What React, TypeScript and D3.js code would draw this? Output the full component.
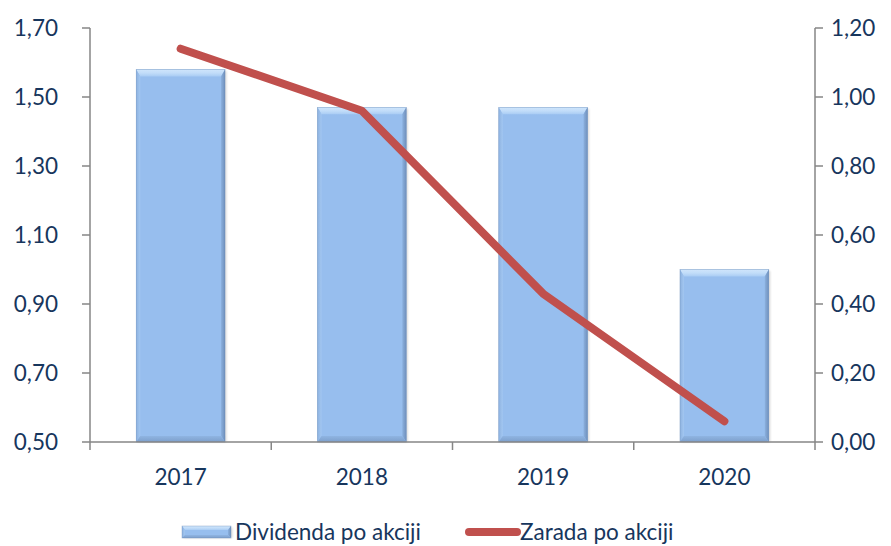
import React from "react";
import * as d3 from "d3";

const categories = ["2017", "2018", "2019", "2020"];
const dividenda = [1.58, 1.47, 1.47, 1.0];
const zarada = [1.14, 0.96, 0.43, 0.06];
const leftTicks = [0.5, 0.7, 0.9, 1.1, 1.3, 1.5, 1.7];
const rightTicks = [0, 0.2, 0.4, 0.6, 0.8, 1.0, 1.2];
const seriesNames = ["Dividenda po akciji", "Zarada po akciji"];

const W = 891, H = 546;
const M = { left: 90, right: 815, top: 28, bottom: 442 };
const FONT = "Lato, 'Open Sans', sans-serif";
const FS = 22.5;
const TEXT = "#17365D";
const AXIS = "#868686";
const fmt = (v: number) => v.toFixed(2).replace(".", ",");

function BevelBar({ x, y, w, h, small }: { x: number; y: number; w: number; h: number; small?: boolean }) {
  const bt = Math.min(small ? 4 : 7, h / 2);
  const bb = Math.min(small ? 3 : 6, h / 2);
  const bs = small ? 3 : 4;
  return (
    <g>
      <rect x={x + 1.5} y={y + 1.5} width={w} height={h - 1.5} fill="#000" opacity={0.15} filter="url(#blur)" />
      <rect x={x} y={y} width={w} height={h} fill="#97BEEE" />
      <polygon points={`${x},${y} ${x + w},${y} ${x + w - bs},${y + bt} ${x + bs},${y + bt}`} fill="url(#topB)" />
      <polygon points={`${x},${y} ${x + bs},${y + bt} ${x + bs},${y + h - bb} ${x},${y + h}`} fill="url(#leftB)" />
      <polygon points={`${x + w},${y} ${x + w},${y + h} ${x + w - bs},${y + h - bb} ${x + w - bs},${y + bt}`} fill="url(#rightB)" />
      <polygon points={`${x},${y + h} ${x + bs},${y + h - bb} ${x + w - bs},${y + h - bb} ${x + w},${y + h}`} fill="url(#botB)" />
      <rect x={x} y={y} width={w} height={h} fill="none" stroke="#6E8DB8" strokeWidth={0.6} opacity={0.6} />
    </g>
  );
}

export default function App() {
  const x = d3.scaleBand<string>().domain(categories).range([M.left, M.right]).paddingInner(0).paddingOuter(0);
  const yL = d3.scaleLinear().domain([0.5, 1.7]).range([M.bottom, M.top]);
  const yR = d3.scaleLinear().domain([0, 1.2]).range([M.bottom, M.top]);
  const bw = x.bandwidth() * 0.49;
  const line = d3
    .line<number>()
    .x((_, i) => (x(categories[i]) as number) + x.bandwidth() / 2)
    .y((d) => yR(d));
  const boundaries = [...categories.map((c) => x(c) as number), M.right];

  return (
    <svg width={W} height={H} style={{ position: "absolute", left: 0, top: 0, display: "block", background: "#fff" }}>
      <defs>
        <linearGradient id="topB" x1="0" x2="0" y1="0" y2="1">
          <stop offset="0" stopColor="#CFE5FB" />
          <stop offset="0.5" stopColor="#C2DDF9" />
          <stop offset="1" stopColor="#A9CCF4" />
        </linearGradient>
        <linearGradient id="leftB" x1="0" x2="1" y1="0" y2="0">
          <stop offset="0" stopColor="#8DB2E0" />
          <stop offset="1" stopColor="#A3C7F1" />
        </linearGradient>
        <linearGradient id="rightB" x1="0" x2="1" y1="0" y2="0">
          <stop offset="0" stopColor="#8BB0DE" />
          <stop offset="1" stopColor="#6F90BC" />
        </linearGradient>
        <linearGradient id="botB" x1="0" x2="0" y1="0" y2="1">
          <stop offset="0" stopColor="#8FB4E2" />
          <stop offset="1" stopColor="#7D9FCB" />
        </linearGradient>
        <filter id="blur" x="-10%" y="-10%" width="120%" height="120%">
          <feGaussianBlur stdDeviation="1.2" />
        </filter>
      </defs>

      {/* bars */}
      {dividenda.map((v, i) => {
        const cx = (x(categories[i]) as number) + x.bandwidth() / 2;
        return <BevelBar key={i} x={cx - bw / 2} y={yL(v)} w={bw} h={yL(0.5) - yL(v)} />;
      })}

      {/* axes */}
      <g stroke={AXIS} strokeWidth={1.5} fill="none">
        <line x1={M.left} x2={M.left} y1={M.top} y2={M.bottom} />
        <line x1={M.right} x2={M.right} y1={M.top} y2={M.bottom} />
        <line x1={M.left} x2={M.right} y1={M.bottom} y2={M.bottom} />
        {leftTicks.map((t) => (
          <line key={"l" + t} x1={M.left - 8} x2={M.left} y1={yL(t)} y2={yL(t)} />
        ))}
        {rightTicks.map((t) => (
          <line key={"r" + t} x1={M.right} x2={M.right + 8} y1={yR(t)} y2={yR(t)} />
        ))}
        {boundaries.map((b, i) => (
          <line key={"b" + i} x1={b} x2={b} y1={M.bottom} y2={M.bottom + 8} />
        ))}
      </g>

      {/* line */}
      <path d={line(zarada) || ""} fill="none" stroke="#C0504D" strokeWidth={8} strokeLinecap="round" strokeLinejoin="round" />

      {/* labels */}
      <g fontFamily={FONT} fontSize={FS} fill={TEXT}>
        {leftTicks.map((t) => (
          <text key={"lt" + t} x={58} y={yL(t)} dy="0.36em" textAnchor="end">{fmt(t)}</text>
        ))}
        {rightTicks.map((t) => (
          <text key={"rt" + t} x={831} y={yR(t)} dy="0.36em" textAnchor="start">{fmt(t)}</text>
        ))}
        {categories.map((c) => (
          <text key={c} x={(x(c) as number) + x.bandwidth() / 2} y={485} textAnchor="middle">{c}</text>
        ))}
      </g>

      {/* legend */}
      <g>
        <BevelBar x={182} y={526} w={49} h={12} small />
        <text x={235} y={540} fontFamily={FONT} fontSize={FS} fill={TEXT}>{seriesNames[0]}</text>
        <line x1={469} x2={517} y1={532} y2={532} stroke="#C0504D" strokeWidth={8} strokeLinecap="round" />
        <text x={520} y={540} fontFamily={FONT} fontSize={FS} fill={TEXT}>{seriesNames[1]}</text>
      </g>
    </svg>
  );
}
